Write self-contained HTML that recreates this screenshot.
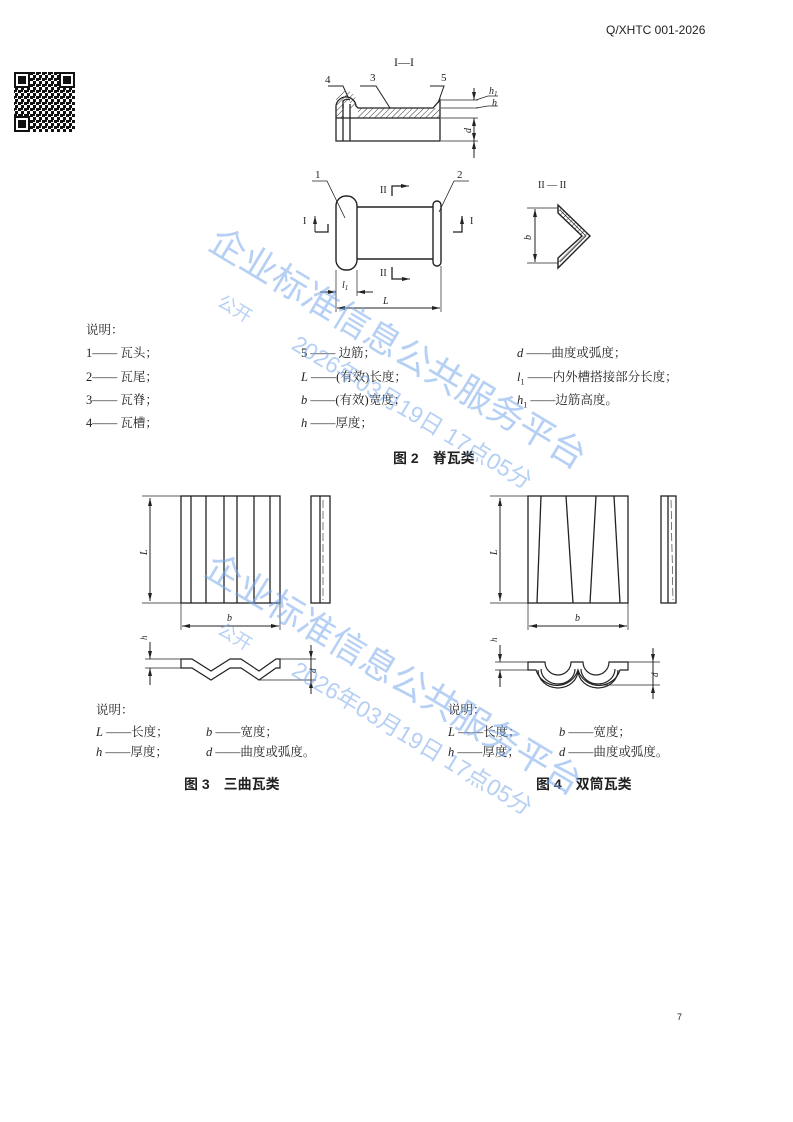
<!DOCTYPE html>
<html><head><meta charset="utf-8"><style>
html,body{margin:0;padding:0;background:#fff}
body{width:793px;height:1122px;position:relative;overflow:hidden;font-family:"Liberation Serif","Noto Serif CJK SC",serif;color:#222}
.t{position:absolute;font-size:12.5px;white-space:nowrap;line-height:1}
.cap{position:absolute;font-family:"Liberation Sans","Noto Sans CJK SC",sans-serif;font-weight:bold;font-size:14px;white-space:nowrap;line-height:1}
.wm{position:absolute;color:rgba(120,170,235,0.55);font-family:"Liberation Sans","Noto Sans CJK SC",sans-serif;white-space:nowrap;transform-origin:0 0;line-height:1}
</style></head><body>
<div class="t" style="left:606px;top:24px;font-family:'Liberation Sans',sans-serif;font-size:12px">Q/XHTC 001-2026</div>
<div class="t" style="left:677px;top:1013px;font-family:'Liberation Sans',sans-serif;font-size:9px">7</div>

<svg width="793" height="1122" style="position:absolute;left:0;top:0" stroke="#222" fill="none" stroke-width="1">
<defs>
<pattern id="hat" width="4" height="4" patternUnits="userSpaceOnUse" patternTransform="rotate(45)"><line x1="0" y1="0" x2="0" y2="4" stroke="#333" stroke-width="1"/></pattern>
<pattern id="qr" width="6" height="6" patternUnits="userSpaceOnUse"><rect x="0" y="0" width="3" height="3" fill="#111" stroke="none"/><rect x="3" y="3" width="3" height="3" fill="#111" stroke="none"/><rect x="3" y="0" width="2" height="2" fill="#111" stroke="none"/></pattern>
<marker id="a" markerWidth="8" markerHeight="6" refX="8" refY="3" orient="auto-start-reverse" markerUnits="userSpaceOnUse"><path d="M0,1 L8,3 L0,5z" fill="#222" stroke="none"/></marker>
</defs>
<!-- QR -->
<rect x="14" y="72" width="61" height="60" fill="url(#qr)" stroke="none"/>
<g stroke="none" fill="#111">
<rect x="14" y="72" width="16" height="16"/><rect x="59" y="72" width="16" height="16"/><rect x="14" y="116" width="16" height="16"/>
</g>
<g stroke="none" fill="#fff"><rect x="16" y="74" width="12" height="12"/><rect x="61" y="74" width="12" height="12"/><rect x="16" y="118" width="12" height="12"/></g>
<g stroke="none" fill="#111"><rect x="18" y="76" width="8" height="8"/><rect x="63" y="76" width="8" height="8"/><rect x="18" y="120" width="8" height="8"/></g>

<!-- Section I-I -->
<g stroke-width="1.3">
<path d="M336,141 V108 A10,10 0 0 1 356,106 L358,108 H433 L440,100 V141 Z" fill="none"/>
<path d="M343,108 V101 A6,6 0 0 1 350,100" />
<path d="M336,118 H440" />
<rect x="358" y="108" width="82" height="10" fill="url(#hat)" stroke="none"/>
<path d="M336,100 A10,10 0 0 1 356,102 L356,108 H350 V103 H343 V118 H336Z" fill="url(#hat)" stroke="none"/>
<path d="M343,104 V141 M350,104 V141"/>
</g>
<path d="M328,86 L343,86 L348,97 M360,86 L376,86 L390,108 M430,86 L444,86 L438,103"/>
<text x="325" y="83" font-size="11" fill="#222" stroke="none">4</text>
<text x="370" y="81" font-size="11" fill="#222" stroke="none">3</text>
<text x="441" y="81" font-size="11" fill="#222" stroke="none">5</text>
<text x="394" y="66" font-size="12" fill="#222" stroke="none">I—I</text>
<path d="M441,100 H478 M441,108 H478 M441,118 H478 M441,141 H478" stroke-width="0.7"/>
<path d="M474,88 V100" marker-end="url(#a)"/><path d="M474,118 V141" marker-start="url(#a)" marker-end="url(#a)"/><path d="M474,141 V158" marker-start="url(#a)"/>
<path d="M476,100 L488,96 H498 M476,108 L488,106 H498" stroke-width="0.7"/>
<text x="489" y="94" font-size="10" font-style="italic" fill="#222" stroke="none">h<tspan font-size="7" dy="2">1</tspan></text>
<text x="492" y="106" font-size="10" font-style="italic" fill="#222" stroke="none">h</text>
<text x="471" y="133" font-size="10" font-style="italic" fill="#222" stroke="none" transform="rotate(-90 471 133)">d</text>

<!-- Plan view -->
<g stroke-width="1.4">
<rect x="336" y="196" width="21" height="74" rx="10" ry="10"/>
<rect x="433" y="201" width="8" height="65" rx="4" ry="4"/>
<path d="M357,207 H433 M357,259 H433"/>
</g>
<path d="M312,181 H327 L345,218 M469,181 H454 L439,212" stroke-width="0.8"/>
<text x="315" y="178" font-size="11" fill="#222" stroke="none">1</text>
<text x="457" y="178" font-size="11" fill="#222" stroke="none">2</text>
<text x="380" y="193" font-size="10" fill="#222" stroke="none">II</text>
<path d="M392,196 V186 H403" stroke-width="1.3"/><path d="M399,186 H409" marker-end="url(#a)"/>
<text x="380" y="276" font-size="10" fill="#222" stroke="none">II</text>
<path d="M392,267 V279 H405" stroke-width="1.3"/><path d="M400,279 H410" marker-end="url(#a)"/>
<text x="303" y="224" font-size="10" fill="#222" stroke="none">I</text>
<path d="M328,224 V232 H315" stroke-width="1.3"/><path d="M315,232 V216" marker-end="url(#a)"/>
<text x="470" y="224" font-size="10" fill="#222" stroke="none">I</text>
<path d="M453,232 H462 V216" stroke-width="1.3" marker-end="url(#a)"/>
<path d="M336,270 V312 M357,270 V296 M441,266 V312" stroke-width="0.7"/>
<path d="M320,292 H336" marker-end="url(#a)"/><path d="M357,292 H373" marker-start="url(#a)"/>
<path d="M337,308 H440" marker-start="url(#a)" marker-end="url(#a)"/>
<text x="342" y="288" font-size="10" font-style="italic" fill="#222" stroke="none">l<tspan font-size="7" dy="2">1</tspan></text>
<text x="383" y="304" font-size="10" font-style="italic" fill="#222" stroke="none">L</text>

<!-- II-II -->
<text x="538" y="188" font-size="10" fill="#222" stroke="none">II — II</text>
<path d="M558,205 L590,236 L558,268 V258 L582,236 L558,213 Z" fill="url(#hat)" stroke-width="1.4"/>
<path d="M560,210 L586,236 L560,262" stroke-width="0.7"/>
<path d="M527,208 H558 M527,263 H558" stroke-width="0.7"/>
<path d="M535,209 V262" marker-start="url(#a)" marker-end="url(#a)"/>
<text x="531" y="240" font-size="10" font-style="italic" fill="#222" stroke="none" transform="rotate(-90 531 240)">b</text>

<!-- Fig3 -->
<g stroke-width="1.3">
<rect x="181" y="496" width="99" height="107"/>
<path d="M191,496 V603 M206,496 V603 M224,496 V603 M237,496 V603 M254,496 V603 M270,496 V603"/>
<rect x="311" y="496" width="19" height="107"/>
<path d="M320,496 V603"/>
</g>
<path d="M323,500 V600" stroke-dasharray="8,3" stroke-width="0.6"/>
<path d="M142,496 H181 M142,603 H181" stroke-width="0.7"/>
<path d="M150,498 V601" marker-start="url(#a)" marker-end="url(#a)"/>
<text x="147" y="555" font-size="10" font-style="italic" fill="#222" stroke="none" transform="rotate(-90 147 555)">L</text>
<path d="M181,603 V630 M280,603 V630" stroke-width="0.7"/>
<path d="M182,626 H279" marker-start="url(#a)" marker-end="url(#a)"/>
<text x="227" y="621" font-size="10" font-style="italic" fill="#222" stroke="none">b</text>
<path d="M181,659 H192 L211,671 L230,659 H241 L259,671 L276,659 H280 V668 H276 L259,680 L241,668 H230 L211,680 L192,668 H181 Z" stroke-width="1.2" fill="none"/>
<path d="M145,659 H181 M145,668 H181 M280,659 H316 M259,680 H316" stroke-width="0.7"/>
<path d="M150,642 V659" marker-end="url(#a)"/><path d="M150,668 V685" marker-start="url(#a)"/>
<text x="147" y="640" font-size="9" font-style="italic" fill="#222" stroke="none" transform="rotate(-90 147 640)">h</text>
<path d="M311,645 V659" marker-end="url(#a)"/><path d="M311,659 V680" /><path d="M311,680 V694" marker-start="url(#a)"/>
<text x="316" y="673" font-size="9" font-style="italic" fill="#222" stroke="none" transform="rotate(-90 316 673)">d</text>

<!-- Fig4 -->
<g stroke-width="1.3">
<rect x="528" y="496" width="100" height="107"/>
<path d="M541,496 L537,603 M566,496 L573,603 M596,496 L590,603 M614,496 L620,603"/>
<rect x="661" y="496" width="15" height="107"/>
<path d="M668,496 V603"/>
</g>
<path d="M671,500 L673,600" stroke-dasharray="8,3" stroke-width="0.6"/>
<path d="M490,496 H528 M490,603 H528" stroke-width="0.7"/>
<path d="M500,498 V601" marker-start="url(#a)" marker-end="url(#a)"/>
<text x="497" y="555" font-size="10" font-style="italic" fill="#222" stroke="none" transform="rotate(-90 497 555)">L</text>
<path d="M528,603 V630 M628,603 V630" stroke-width="0.7"/>
<path d="M529,626 H627" marker-start="url(#a)" marker-end="url(#a)"/>
<text x="575" y="621" font-size="10" font-style="italic" fill="#222" stroke="none">b</text>
<g stroke-width="1.2">
<path d="M528,662 H545 A13,13 0 0 0 571,662 H583 A13,13 0 0 0 609,662 H628 V670 H620 A22,22 0 0 1 578,670 A22,22 0 0 1 536,670 H528 Z"/>
<path d="M538,670 A20,18 0 0 0 578,670 A20,18 0 0 0 618,670"/>
<path d="M541,669 A17,15 0 0 0 575,669 M581,669 A17,15 0 0 0 615,669"/>
</g>
<path d="M495,662 H528 M495,670 H528 M628,662 H660 M600,685 H660" stroke-width="0.7"/>
<path d="M500,645 V662" marker-end="url(#a)"/><path d="M500,670 V687" marker-start="url(#a)"/>
<text x="497" y="642" font-size="9" font-style="italic" fill="#222" stroke="none" transform="rotate(-90 497 642)">h</text>
<path d="M653,648 V662" marker-end="url(#a)"/><path d="M653,662 V685"/><path d="M653,685 V699" marker-start="url(#a)"/>
<text x="658" y="677" font-size="9" font-style="italic" fill="#222" stroke="none" transform="rotate(-90 658 677)">d</text>
</svg>

<!-- legend fig2 -->
<div class="t" style="left:86px;top:324px">说明：</div>
<div class="t" style="left:86px;top:347px">1—— 瓦头；</div>
<div class="t" style="left:86px;top:371px">2—— 瓦尾；</div>
<div class="t" style="left:86px;top:394px">3—— 瓦脊；</div>
<div class="t" style="left:86px;top:417px">4—— 瓦槽；</div>
<div class="t" style="left:301px;top:347px">5 —— 边筋；</div>
<div class="t" style="left:301px;top:371px"><i>L</i> ——(有效)长度；</div>
<div class="t" style="left:301px;top:394px"><i>b</i> ——(有效)宽度；</div>
<div class="t" style="left:301px;top:417px"><i>h</i> ——厚度；</div>
<div class="t" style="left:517px;top:347px"><i>d</i> ——曲度或弧度；</div>
<div class="t" style="left:517px;top:371px"><i>l</i><sub style="font-size:8px">1</sub> ——内外槽搭接部分长度；</div>
<div class="t" style="left:517px;top:394px"><i>h</i><sub style="font-size:8px">1</sub> ——边筋高度。</div>
<div class="cap" style="left:393px;top:451px">图 2　脊瓦类</div>

<!-- legend fig3/4 -->
<div class="t" style="left:96px;top:704px">说明：</div>
<div class="t" style="left:96px;top:726px"><i>L</i> ——长度；</div>
<div class="t" style="left:96px;top:746px"><i>h</i> ——厚度；</div>
<div class="t" style="left:206px;top:726px"><i>b</i> ——宽度；</div>
<div class="t" style="left:206px;top:746px"><i>d</i> ——曲度或弧度。</div>
<div class="t" style="left:448px;top:704px">说明：</div>
<div class="t" style="left:448px;top:726px"><i>L</i> ——长度；</div>
<div class="t" style="left:448px;top:746px"><i>h</i> ——厚度；</div>
<div class="t" style="left:559px;top:726px"><i>b</i> ——宽度；</div>
<div class="t" style="left:559px;top:746px"><i>d</i> ——曲度或弧度。</div>
<div class="cap" style="left:184px;top:777px">图 3　三曲瓦类</div>
<div class="cap" style="left:536px;top:777px">图 4　双筒瓦类</div>

<!-- watermarks -->
<div class="wm" style="left:222px;top:222px;font-size:36px;transform:rotate(31deg)">企业标准信息公共服务平台</div>
<div class="wm" style="left:224px;top:292px;font-size:18px;transform:rotate(31deg)">公开</div>
<div class="wm" style="left:300px;top:332px;font-size:23px;transform:rotate(31deg)">2026年03月19日 17点05分</div>
<div class="wm" style="left:218px;top:548px;font-size:36px;transform:rotate(31deg)">企业标准信息公共服务平台</div>
<div class="wm" style="left:224px;top:620px;font-size:18px;transform:rotate(31deg)">公开</div>
<div class="wm" style="left:300px;top:658px;font-size:23px;transform:rotate(31deg)">2026年03月19日 17点05分</div>
</body></html>
